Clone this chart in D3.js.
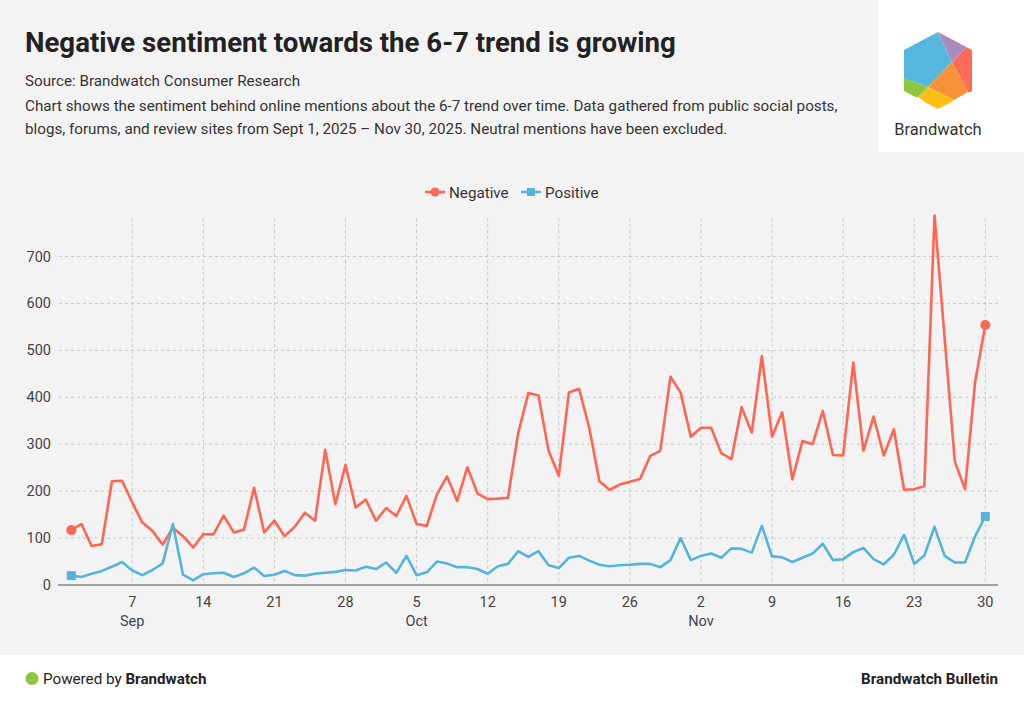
<!DOCTYPE html>
<html><head><meta charset="utf-8">
<script src="https://cdn.jsdelivr.net/npm/d3@7"></script>
<style>
html,body{margin:0;padding:0;background:#f3f3f3;}
svg{display:block;font-family:Roboto, "Noto Sans", sans-serif;}
</style></head><body>
<svg id="c" width="1024" height="703"></svg>
<script>
const startDate = "2025-09-01";
const negative = [117,130,83,87,221,222,176,133,115,86,122,104,80,108,108,148,112,118,207,112,137,104,124,154,137,288,172,256,165,182,
137,164,147,190,130,126,193,231,179,251,195,183,184,186,323,409,404,286,233,410,418,335,221,203,214,220,226,275,286,444,410,
316,335,335,281,268,379,325,488,316,368,225,307,300,371,277,276,474,286,359,276,332,203,204,211,787,525,263,204,433,554];
const positive = [20,17,24,30,39,49,31,21,32,46,130,22,10,23,25,26,17,25,37,19,22,30,21,20,24,26,28,32,31,39,
34,48,26,62,21,27,50,46,38,38,34,24,40,45,72,60,72,42,36,58,62,52,43,40,42,43,45,45,38,53,100,
53,62,67,58,78,77,69,126,61,59,49,58,67,88,53,55,70,79,55,44,65,107,45,63,124,62,48,48,104,146];
const yTicks = [0,100,200,300,400,500,600,700];
const seriesNames = ["Negative","Positive"];
const seriesColors = ["#ff6651","#55b4dc"];

const svg = d3.select("#c");
const t0 = new Date(startDate + "T00:00:00Z");
const dates = negative.map((_, i) => d3.utcDay.offset(t0, i));

// header
svg.append("rect").attr("x",878).attr("y",0).attr("width",148).attr("height",152).attr("fill","#fff");
svg.append("text").attr("x",25).attr("y",52).attr("font-size",27.6).attr("font-weight",700).attr("fill","#222")
  .text("Negative sentiment towards the 6-7 trend is growing");
svg.append("text").attr("x",25).attr("y",86).attr("font-size",15.2).attr("fill","#333")
  .text("Source: Brandwatch Consumer Research");
svg.append("text").attr("x",25).attr("y",111).attr("font-size",15.2).attr("fill","#333")
  .text("Chart shows the sentiment behind online mentions about the 6-7 trend over time. Data gathered from public social posts,");
svg.append("text").attr("x",25).attr("y",134).attr("font-size",15.2).attr("fill","#333")
  .text("blogs, forums, and review sites from Sept 1, 2025 \u2013 Nov 30, 2025. Neutral mentions have been excluded.");

// logo
const logo = svg.append("g");
const hex = [[938,32],[972,50],[972,91],[938,109],[904,91],[904,50]];
const clip = svg.append("defs").append("clipPath").attr("id","hexclip");
clip.append("path").attr("d", d3.line().curve(d3.curveLinearClosed)(hex));
const lg = logo.append("g").attr("clip-path","url(#hexclip)");
const C = [952,62];
const polys = [
  {c:"#56b7dd", p:[[898,46],[936,28],C,[928,87],[898,76]]},
  {c:"#a78cbf", p:[[936,28],[968,46],C]},
  {c:"#ff6b57", p:[[968,46],[978,50],[978,95],[968,92],C]},
  {c:"#f7913a", p:[C,[968,92],[954,100],[928,87]]},
  {c:"#ffc013", p:[[928,87],[954,100],[940,114],[918,97]]},
  {c:"#8cc63f", p:[[898,76],[928,87],[918,97],[898,97]]}
];
polys.forEach(o => lg.append("path").attr("d", d3.line().curve(d3.curveLinearClosed)(o.p)).attr("fill",o.c));
svg.append("text").attr("x",938).attr("y",135).attr("text-anchor","middle").attr("font-size",16.5).attr("fill","#333")
  .text("Brandwatch");

// scales
const x = d3.scaleUtc().domain([dates[0], dates[dates.length-1]]).range([71.3, 985.3]);
const y = d3.scaleLinear().domain([0,700]).range([585, 256.5]);

// gridlines
const gridG = svg.append("g");
gridG.selectAll("line.h").data(yTicks.slice(1)).join("line")
  .attr("x1",59).attr("x2",998).attr("y1",d=>y(d)).attr("y2",d=>y(d))
  .attr("stroke","#c8c8c8").attr("stroke-dasharray","3,3");
const weekTicks = d3.utcSunday.range(dates[0], d3.utcDay.offset(dates[dates.length-1],1));
gridG.selectAll("line.v").data(weekTicks).join("line")
  .attr("x1",d=>x(d)).attr("x2",d=>x(d)).attr("y1",218).attr("y2",585)
  .attr("stroke","#c8c8c8").attr("stroke-dasharray","3,3");

// y axis labels
svg.append("g").selectAll("text").data(yTicks).join("text")
  .attr("x",51).attr("y",d=>y(d)+5).attr("text-anchor","end").attr("font-size",14.5).attr("fill","#444")
  .text(d=>d);

// x axis
svg.append("line").attr("x1",58).attr("x2",998).attr("y1",585).attr("y2",585).attr("stroke","#888").attr("stroke-width",1.5);
const seen = {};
const xl = svg.append("g");
weekTicks.forEach(d => {
  xl.append("text").attr("x",x(d)).attr("y",607).attr("text-anchor","middle").attr("font-size",14.5).attr("fill","#444")
    .text(d3.utcFormat("%-d")(d));
  const m = d3.utcFormat("%b")(d);
  if(!seen[m]){ seen[m]=1;
    xl.append("text").attr("x",x(d)).attr("y",626).attr("text-anchor","middle").attr("font-size",14.5).attr("fill","#444").text(m);
  }
});

// lines
[negative, positive].forEach((vals, si) => {
  const line = d3.line().x((d,i)=>x(dates[i])).y(d=>y(d));
  svg.append("path").datum(vals).attr("d", line).attr("fill","none")
    .attr("stroke", seriesColors[si]).attr("stroke-width",2.6).attr("stroke-linejoin","round");
  [0, vals.length-1].forEach(i => {
    if(si===0){
      svg.append("circle").attr("cx",x(dates[i])).attr("cy",y(vals[i])).attr("r",5).attr("fill",seriesColors[si]);
    } else {
      svg.append("rect").attr("x",x(dates[i])-4.5).attr("y",y(vals[i])-4.5).attr("width",9).attr("height",9).attr("fill",seriesColors[si]);
    }
  });
});

// legend
const leg = svg.append("g");
const legX = [425, 521];
seriesNames.forEach((n, i) => {
  const lx = legX[i];
  leg.append("line").attr("x1",lx).attr("x2",lx+20).attr("y1",192).attr("y2",192).attr("stroke",seriesColors[i]).attr("stroke-width",2.6);
  if(i===0) leg.append("circle").attr("cx",lx+10).attr("cy",192).attr("r",4.5).attr("fill",seriesColors[i]);
  else leg.append("rect").attr("x",lx+6).attr("y",188).attr("width",8).attr("height",8).attr("fill",seriesColors[i]);
  leg.append("text").attr("x",lx+24).attr("y",197.5).attr("font-size",15.2).attr("fill","#333").text(n);
});

// footer
svg.append("rect").attr("x",0).attr("y",655).attr("width",1024).attr("height",48).attr("fill","#fff");
svg.append("circle").attr("cx",32).attr("cy",678.5).attr("r",6.5).attr("fill","#8cc63f");
const ft = svg.append("text").attr("x",43).attr("y",684).attr("font-size",15.2).attr("fill","#222");
ft.append("tspan").text("Powered by ");
ft.append("tspan").attr("font-weight",700).text("Brandwatch");
svg.append("text").attr("x",998).attr("y",684).attr("text-anchor","end").attr("font-size",15.2).attr("font-weight",700).attr("fill","#222")
  .text("Brandwatch Bulletin");
</script>
</body></html>
